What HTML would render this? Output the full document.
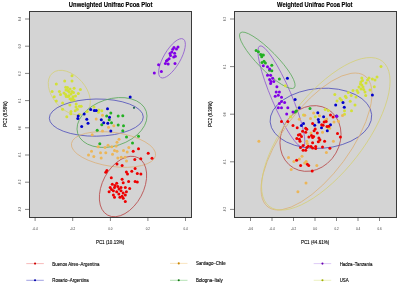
<!DOCTYPE html>
<html><head><meta charset="utf-8"><style>
html,body{margin:0;padding:0;background:#fff;}
svg{display:block;filter:blur(0.4px);}
text{font-family:"Liberation Sans",sans-serif;}
</style></head><body>
<svg width="400" height="286" viewBox="0 0 400 286">
<defs>
<clipPath id="cl"><rect x="29" y="11" width="162" height="206"/></clipPath>
<clipPath id="cr"><rect x="234" y="11" width="163" height="206"/></clipPath>
</defs>
<rect x="0" y="0" width="400" height="286" fill="#fff"/>
<rect x="29" y="11" width="162" height="206" fill="#d4d4d4"/>
<rect x="234" y="11" width="163" height="206" fill="#d4d4d4"/>
<g clip-path="url(#cl)">
<ellipse cx="172" cy="58.3" rx="22.3" ry="8.3" transform="rotate(-59.6 172 58.3)" fill="none" stroke="#9058d0" stroke-width="0.75"/>
<ellipse cx="69.3" cy="92.6" rx="25.8" ry="16.6" transform="rotate(49 69.3 92.6)" fill="none" stroke="#d4d078" stroke-width="0.75"/>
<ellipse cx="96.3" cy="117.6" rx="47.0" ry="18.6" transform="rotate(-0.8 96.3 117.6)" fill="none" stroke="#4444b8" stroke-width="0.75"/>
<ellipse cx="112" cy="122.5" rx="36" ry="23.5" transform="rotate(-18 112 122.5)" fill="none" stroke="#58a858" stroke-width="0.75"/>
<ellipse cx="113.5" cy="149.5" rx="42.5" ry="17" transform="rotate(8 113.5 149.5)" fill="none" stroke="#dcb078" stroke-width="0.75"/>
<ellipse cx="123" cy="186.5" rx="32.5" ry="20.5" transform="rotate(-62 123 186.5)" fill="none" stroke="#b84848" stroke-width="0.75"/>
<circle cx="72.0" cy="75.7" r="1.5" fill="#d2e038"/>
<circle cx="64.7" cy="81.0" r="1.5" fill="#d2e038"/>
<circle cx="72.0" cy="81.0" r="1.5" fill="#d2e038"/>
<circle cx="56.3" cy="84.1" r="1.5" fill="#d2e038"/>
<circle cx="65.7" cy="87.3" r="1.5" fill="#d2e038"/>
<circle cx="74.1" cy="88.3" r="1.5" fill="#d2e038"/>
<circle cx="80.4" cy="89.4" r="1.5" fill="#d2e038"/>
<circle cx="52.1" cy="91.5" r="1.5" fill="#d2e038"/>
<circle cx="59.4" cy="91.5" r="1.5" fill="#d2e038"/>
<circle cx="67.8" cy="90.4" r="1.5" fill="#d2e038"/>
<circle cx="72.0" cy="91.5" r="1.5" fill="#d2e038"/>
<circle cx="60.5" cy="94.6" r="1.5" fill="#d2e038"/>
<circle cx="65.7" cy="94.6" r="1.5" fill="#d2e038"/>
<circle cx="68.9" cy="95.7" r="1.5" fill="#d2e038"/>
<circle cx="73.1" cy="96.7" r="1.5" fill="#d2e038"/>
<circle cx="54.2" cy="96.7" r="1.5" fill="#d2e038"/>
<circle cx="78.3" cy="93.6" r="1.5" fill="#d2e038"/>
<circle cx="70.0" cy="98.8" r="1.5" fill="#d2e038"/>
<circle cx="74.1" cy="99.9" r="1.5" fill="#d2e038"/>
<circle cx="56.3" cy="100.9" r="1.5" fill="#d2e038"/>
<circle cx="62.6" cy="103.0" r="1.5" fill="#d2e038"/>
<circle cx="76.2" cy="104.1" r="1.5" fill="#d2e038"/>
<circle cx="79.4" cy="106.2" r="1.5" fill="#d2e038"/>
<circle cx="69.9" cy="105.1" r="1.5" fill="#d2e038"/>
<circle cx="62.6" cy="109.3" r="1.5" fill="#d2e038"/>
<circle cx="77.3" cy="109.3" r="1.5" fill="#d2e038"/>
<circle cx="71.0" cy="111.4" r="1.5" fill="#d2e038"/>
<circle cx="66.8" cy="116.7" r="1.5" fill="#d2e038"/>
<circle cx="79.4" cy="114.6" r="1.5" fill="#d2e038"/>
<circle cx="66.2" cy="96.5" r="1.5" fill="#d2e038"/>
<circle cx="71.5" cy="100.2" r="1.5" fill="#d2e038"/>
<circle cx="81.2" cy="106.2" r="1.5" fill="#d2e038"/>
<circle cx="76.0" cy="107.0" r="1.5" fill="#d2e038"/>
<circle cx="75.2" cy="110.8" r="1.5" fill="#d2e038"/>
<circle cx="70.8" cy="113.8" r="1.5" fill="#d2e038"/>
<circle cx="87.2" cy="111.5" r="1.5" fill="#d2e038"/>
<circle cx="94.0" cy="107.0" r="1.5" fill="#d2e038"/>
<circle cx="98.5" cy="112.2" r="1.5" fill="#d2e038"/>
<circle cx="98.8" cy="110.0" r="1.5" fill="#d2e038"/>
<circle cx="101.8" cy="110.8" r="1.5" fill="#d2e038"/>
<circle cx="66.0" cy="90.0" r="1.5" fill="#d2e038"/>
<circle cx="69.0" cy="92.0" r="1.5" fill="#d2e038"/>
<circle cx="71.0" cy="94.0" r="1.5" fill="#d2e038"/>
<circle cx="68.0" cy="96.5" r="1.5" fill="#d2e038"/>
<circle cx="73.5" cy="92.5" r="1.5" fill="#d2e038"/>
<circle cx="64.0" cy="93.0" r="1.5" fill="#d2e038"/>
<circle cx="70.0" cy="89.0" r="1.5" fill="#d2e038"/>
<circle cx="75.5" cy="96.0" r="1.5" fill="#d2e038"/>
<circle cx="67.5" cy="87.5" r="1.5" fill="#d2e038"/>
<circle cx="72.5" cy="98.5" r="1.5" fill="#d2e038"/>
<circle cx="96.2" cy="119.0" r="1.5" fill="#ecb658"/>
<circle cx="102.5" cy="115.2" r="1.5" fill="#ecb658"/>
<circle cx="108.5" cy="127.2" r="1.5" fill="#ecb658"/>
<circle cx="113.8" cy="125.8" r="1.5" fill="#ecb658"/>
<circle cx="102.5" cy="131.0" r="1.5" fill="#ecb658"/>
<circle cx="92.2" cy="134.8" r="1.5" fill="#ecb658"/>
<circle cx="98.2" cy="146.8" r="1.5" fill="#ecb658"/>
<circle cx="105.0" cy="147.5" r="1.5" fill="#ecb658"/>
<circle cx="108.0" cy="145.2" r="1.5" fill="#ecb658"/>
<circle cx="111.8" cy="146.8" r="1.5" fill="#ecb658"/>
<circle cx="116.2" cy="146.0" r="1.5" fill="#ecb658"/>
<circle cx="117.0" cy="142.2" r="1.5" fill="#ecb658"/>
<circle cx="91.5" cy="151.2" r="1.5" fill="#ecb658"/>
<circle cx="100.5" cy="152.8" r="1.5" fill="#ecb658"/>
<circle cx="105.8" cy="152.8" r="1.5" fill="#ecb658"/>
<circle cx="112.5" cy="154.2" r="1.5" fill="#ecb658"/>
<circle cx="117.0" cy="151.2" r="1.5" fill="#ecb658"/>
<circle cx="88.5" cy="155.0" r="1.5" fill="#ecb658"/>
<circle cx="93.8" cy="156.5" r="1.5" fill="#ecb658"/>
<circle cx="101.2" cy="158.0" r="1.5" fill="#ecb658"/>
<circle cx="117.8" cy="158.0" r="1.5" fill="#ecb658"/>
<circle cx="119.0" cy="139.2" r="1.5" fill="#ecb658"/>
<circle cx="114.5" cy="150.5" r="1.5" fill="#ecb658"/>
<circle cx="123.5" cy="150.5" r="1.5" fill="#ecb658"/>
<circle cx="128.8" cy="147.5" r="1.5" fill="#ecb658"/>
<circle cx="127.2" cy="152.0" r="1.5" fill="#ecb658"/>
<circle cx="121.2" cy="157.2" r="1.5" fill="#ecb658"/>
<circle cx="125.0" cy="157.2" r="1.5" fill="#ecb658"/>
<circle cx="126.5" cy="161.0" r="1.5" fill="#ecb658"/>
<circle cx="110.8" cy="113.0" r="1.5" fill="#22b022"/>
<circle cx="118.2" cy="116.0" r="1.5" fill="#22b022"/>
<circle cx="122.8" cy="115.7" r="1.5" fill="#22b022"/>
<circle cx="106.7" cy="116.0" r="1.5" fill="#22b022"/>
<circle cx="109.2" cy="119.8" r="1.5" fill="#22b022"/>
<circle cx="111.5" cy="122.8" r="1.5" fill="#22b022"/>
<circle cx="118.2" cy="125.0" r="1.5" fill="#22b022"/>
<circle cx="123.5" cy="125.8" r="1.5" fill="#22b022"/>
<circle cx="101.8" cy="124.7" r="1.5" fill="#22b022"/>
<circle cx="97.2" cy="130.2" r="1.5" fill="#22b022"/>
<circle cx="122.8" cy="130.7" r="1.5" fill="#22b022"/>
<circle cx="99.8" cy="143.8" r="1.5" fill="#22b022"/>
<circle cx="126.5" cy="137.0" r="1.5" fill="#22b022"/>
<circle cx="138.5" cy="136.2" r="1.5" fill="#22b022"/>
<circle cx="132.5" cy="143.0" r="1.5" fill="#22b022"/>
<circle cx="90.7" cy="109.5" r="1.5" fill="#0000cc"/>
<circle cx="94.3" cy="110.6" r="1.5" fill="#0000cc"/>
<circle cx="96.2" cy="110.6" r="1.5" fill="#0000cc"/>
<circle cx="84.2" cy="114.0" r="1.5" fill="#0000cc"/>
<circle cx="78.2" cy="116.0" r="1.5" fill="#0000cc"/>
<circle cx="77.8" cy="118.5" r="1.5" fill="#0000cc"/>
<circle cx="86.8" cy="119.3" r="1.5" fill="#0000cc"/>
<circle cx="88.0" cy="123.2" r="1.5" fill="#0000cc"/>
<circle cx="81.7" cy="126.5" r="1.5" fill="#0000cc"/>
<circle cx="107.5" cy="108.8" r="1.5" fill="#0000cc"/>
<circle cx="109.5" cy="117.2" r="1.5" fill="#0000cc"/>
<circle cx="101.3" cy="119.8" r="1.5" fill="#0000cc"/>
<circle cx="103.7" cy="122.8" r="1.5" fill="#0000cc"/>
<circle cx="107.8" cy="123.2" r="1.5" fill="#0000cc"/>
<circle cx="110.8" cy="131.0" r="1.5" fill="#0000cc"/>
<circle cx="130.2" cy="97.1" r="1.5" fill="#0000cc"/>
<circle cx="172.8" cy="49.2" r="1.5" fill="#8000e6"/>
<circle cx="176.5" cy="49.0" r="1.5" fill="#8000e6"/>
<circle cx="171.8" cy="52.0" r="1.5" fill="#8000e6"/>
<circle cx="174.6" cy="53.3" r="1.5" fill="#8000e6"/>
<circle cx="170.5" cy="55.5" r="1.5" fill="#8000e6"/>
<circle cx="173.7" cy="57.0" r="1.5" fill="#8000e6"/>
<circle cx="175.3" cy="56.2" r="1.5" fill="#8000e6"/>
<circle cx="169.1" cy="58.8" r="1.5" fill="#8000e6"/>
<circle cx="166.4" cy="61.1" r="1.5" fill="#8000e6"/>
<circle cx="165.4" cy="63.5" r="1.5" fill="#8000e6"/>
<circle cx="168.2" cy="63.9" r="1.5" fill="#8000e6"/>
<circle cx="175.0" cy="63.5" r="1.5" fill="#8000e6"/>
<circle cx="158.6" cy="64.8" r="1.5" fill="#8000e6"/>
<circle cx="161.4" cy="71.6" r="1.5" fill="#8000e6"/>
<circle cx="154.3" cy="73.0" r="1.5" fill="#8000e6"/>
<circle cx="178.0" cy="47.0" r="1.5" fill="#8000e6"/>
<circle cx="174.0" cy="47.5" r="1.5" fill="#8000e6"/>
<circle cx="170.0" cy="53.5" r="1.5" fill="#8000e6"/>
<circle cx="167.5" cy="60.0" r="1.5" fill="#8000e6"/>
<circle cx="117.0" cy="164.0" r="1.5" fill="#ee0000"/>
<circle cx="138.5" cy="148.7" r="1.5" fill="#ee0000"/>
<circle cx="133.2" cy="151.2" r="1.5" fill="#ee0000"/>
<circle cx="148.2" cy="153.2" r="1.5" fill="#ee0000"/>
<circle cx="152.0" cy="158.3" r="1.5" fill="#ee0000"/>
<circle cx="140.8" cy="158.8" r="1.5" fill="#ee0000"/>
<circle cx="134.8" cy="159.5" r="1.5" fill="#ee0000"/>
<circle cx="122.1" cy="165.4" r="1.5" fill="#ee0000"/>
<circle cx="135.1" cy="168.4" r="1.5" fill="#ee0000"/>
<circle cx="106.9" cy="170.6" r="1.5" fill="#ee0000"/>
<circle cx="105.8" cy="172.3" r="1.5" fill="#ee0000"/>
<circle cx="126.4" cy="171.9" r="1.5" fill="#ee0000"/>
<circle cx="127.5" cy="174.1" r="1.5" fill="#ee0000"/>
<circle cx="131.8" cy="171.3" r="1.5" fill="#ee0000"/>
<circle cx="137.3" cy="173.4" r="1.5" fill="#ee0000"/>
<circle cx="140.9" cy="173.9" r="1.5" fill="#ee0000"/>
<circle cx="111.3" cy="177.8" r="1.5" fill="#ee0000"/>
<circle cx="122.1" cy="179.3" r="1.5" fill="#ee0000"/>
<circle cx="128.6" cy="181.4" r="1.5" fill="#ee0000"/>
<circle cx="135.1" cy="181.4" r="1.5" fill="#ee0000"/>
<circle cx="137.3" cy="182.1" r="1.5" fill="#ee0000"/>
<circle cx="112.3" cy="184.3" r="1.5" fill="#ee0000"/>
<circle cx="116.7" cy="183.2" r="1.5" fill="#ee0000"/>
<circle cx="123.2" cy="182.7" r="1.5" fill="#ee0000"/>
<circle cx="110.2" cy="187.5" r="1.5" fill="#ee0000"/>
<circle cx="114.5" cy="187.5" r="1.5" fill="#ee0000"/>
<circle cx="117.8" cy="186.4" r="1.5" fill="#ee0000"/>
<circle cx="121.0" cy="187.5" r="1.5" fill="#ee0000"/>
<circle cx="125.3" cy="187.5" r="1.5" fill="#ee0000"/>
<circle cx="129.7" cy="188.6" r="1.5" fill="#ee0000"/>
<circle cx="109.1" cy="191.8" r="1.5" fill="#ee0000"/>
<circle cx="113.4" cy="190.8" r="1.5" fill="#ee0000"/>
<circle cx="116.7" cy="191.8" r="1.5" fill="#ee0000"/>
<circle cx="121.0" cy="190.8" r="1.5" fill="#ee0000"/>
<circle cx="123.2" cy="192.9" r="1.5" fill="#ee0000"/>
<circle cx="126.4" cy="191.8" r="1.5" fill="#ee0000"/>
<circle cx="113.4" cy="195.1" r="1.5" fill="#ee0000"/>
<circle cx="118.8" cy="194.0" r="1.5" fill="#ee0000"/>
<circle cx="122.1" cy="196.2" r="1.5" fill="#ee0000"/>
<circle cx="125.3" cy="195.1" r="1.5" fill="#ee0000"/>
<circle cx="114.5" cy="197.3" r="1.5" fill="#ee0000"/>
<circle cx="119.9" cy="197.3" r="1.5" fill="#ee0000"/>
<circle cx="123.2" cy="198.3" r="1.5" fill="#ee0000"/>
<circle cx="125.3" cy="201.6" r="1.5" fill="#ee0000"/>
<circle cx="119.0" cy="189.0" r="1.5" fill="#ee0000"/>
<circle cx="115.0" cy="185.5" r="1.5" fill="#ee0000"/>
<circle cx="111.5" cy="189.5" r="1.5" fill="#ee0000"/>
<circle cx="134" cy="107.8" r="1.1" fill="#226655"/>
</g>
<g clip-path="url(#cr)">
<ellipse cx="281.4" cy="96.5" rx="55.0" ry="9.9" transform="rotate(66.8 281.4 96.5)" fill="none" stroke="#9058d0" stroke-width="0.75"/>
<ellipse cx="267.3" cy="60.3" rx="38.5" ry="9.5" transform="rotate(45.5 267.3 60.3)" fill="none" stroke="#58a858" stroke-width="0.75"/>
<ellipse cx="320.9" cy="118.3" rx="50.9" ry="30.0" transform="rotate(-4.1 320.9 118.3)" fill="none" stroke="#4444b8" stroke-width="0.75"/>
<ellipse cx="310.5" cy="138.5" rx="34" ry="29.3" transform="rotate(-60 310.5 138.5)" fill="none" stroke="#b84848" stroke-width="0.75"/>
<ellipse cx="316.5" cy="141.5" rx="81.5" ry="33.5" transform="rotate(-53.5 316.5 141.5)" fill="none" stroke="#dcb078" stroke-width="0.75"/>
<ellipse cx="325.8" cy="133.8" rx="92" ry="38.5" transform="rotate(-52 325.8 133.8)" fill="none" stroke="#d4d078" stroke-width="0.75"/>
<circle cx="285.3" cy="85.7" r="1.5" fill="#d2e038"/>
<circle cx="303.5" cy="115.1" r="1.5" fill="#d2e038"/>
<circle cx="325.2" cy="109.4" r="1.5" fill="#d2e038"/>
<circle cx="328.3" cy="110.5" r="1.5" fill="#d2e038"/>
<circle cx="315.2" cy="116.8" r="1.5" fill="#d2e038"/>
<circle cx="290.5" cy="116.8" r="1.5" fill="#d2e038"/>
<circle cx="328.3" cy="128.1" r="1.5" fill="#d2e038"/>
<circle cx="344.5" cy="110.7" r="1.5" fill="#d2e038"/>
<circle cx="351.5" cy="110.7" r="1.5" fill="#d2e038"/>
<circle cx="344.5" cy="114.2" r="1.5" fill="#d2e038"/>
<circle cx="381.0" cy="66.5" r="1.5" fill="#d2e038"/>
<circle cx="377.0" cy="77.0" r="1.5" fill="#d2e038"/>
<circle cx="372.4" cy="79.0" r="1.5" fill="#d2e038"/>
<circle cx="367.5" cy="80.0" r="1.5" fill="#d2e038"/>
<circle cx="361.8" cy="78.0" r="1.5" fill="#d2e038"/>
<circle cx="360.8" cy="82.0" r="1.5" fill="#d2e038"/>
<circle cx="361.8" cy="85.0" r="1.5" fill="#d2e038"/>
<circle cx="359.0" cy="87.0" r="1.5" fill="#d2e038"/>
<circle cx="363.7" cy="89.6" r="1.5" fill="#d2e038"/>
<circle cx="374.3" cy="86.7" r="1.5" fill="#d2e038"/>
<circle cx="365.7" cy="95.4" r="1.5" fill="#d2e038"/>
<circle cx="357.0" cy="90.6" r="1.5" fill="#d2e038"/>
<circle cx="353.0" cy="90.6" r="1.5" fill="#d2e038"/>
<circle cx="348.3" cy="92.5" r="1.5" fill="#d2e038"/>
<circle cx="345.4" cy="96.3" r="1.5" fill="#d2e038"/>
<circle cx="351.2" cy="95.4" r="1.5" fill="#d2e038"/>
<circle cx="334.8" cy="94.4" r="1.5" fill="#d2e038"/>
<circle cx="341.5" cy="100.2" r="1.5" fill="#d2e038"/>
<circle cx="350.2" cy="101.2" r="1.5" fill="#d2e038"/>
<circle cx="355.0" cy="105.0" r="1.5" fill="#d2e038"/>
<circle cx="362.5" cy="80.5" r="1.5" fill="#d2e038"/>
<circle cx="360.5" cy="84.0" r="1.5" fill="#d2e038"/>
<circle cx="363.0" cy="87.0" r="1.5" fill="#d2e038"/>
<circle cx="361.0" cy="89.0" r="1.5" fill="#d2e038"/>
<circle cx="366.0" cy="83.0" r="1.5" fill="#d2e038"/>
<circle cx="369.0" cy="78.0" r="1.5" fill="#d2e038"/>
<circle cx="375.0" cy="80.0" r="1.5" fill="#d2e038"/>
<circle cx="358.0" cy="92.5" r="1.5" fill="#d2e038"/>
<circle cx="340.0" cy="98.5" r="1.5" fill="#d2e038"/>
<circle cx="346.2" cy="97.6" r="1.5" fill="#d2e038"/>
<circle cx="370.0" cy="90.0" r="1.5" fill="#d2e038"/>
<circle cx="356.0" cy="97.0" r="1.5" fill="#d2e038"/>
<circle cx="337.0" cy="101.0" r="1.5" fill="#d2e038"/>
<circle cx="365.0" cy="92.0" r="1.5" fill="#d2e038"/>
<circle cx="299.3" cy="119.3" r="1.5" fill="#ecb658"/>
<circle cx="304.7" cy="115.2" r="1.5" fill="#ecb658"/>
<circle cx="313.6" cy="113.1" r="1.5" fill="#ecb658"/>
<circle cx="310.5" cy="118.4" r="1.5" fill="#ecb658"/>
<circle cx="319.4" cy="115.7" r="1.5" fill="#ecb658"/>
<circle cx="326.7" cy="118.9" r="1.5" fill="#ecb658"/>
<circle cx="306.8" cy="141.3" r="1.5" fill="#ecb658"/>
<circle cx="307.3" cy="143.4" r="1.5" fill="#ecb658"/>
<circle cx="311.0" cy="132.9" r="1.5" fill="#ecb658"/>
<circle cx="322.5" cy="132.3" r="1.5" fill="#ecb658"/>
<circle cx="319.4" cy="141.3" r="1.5" fill="#ecb658"/>
<circle cx="258.9" cy="141.3" r="1.5" fill="#ecb658"/>
<circle cx="288.5" cy="157.5" r="1.5" fill="#ecb658"/>
<circle cx="293.9" cy="161.6" r="1.5" fill="#ecb658"/>
<circle cx="302.0" cy="156.2" r="1.5" fill="#ecb658"/>
<circle cx="299.3" cy="158.9" r="1.5" fill="#ecb658"/>
<circle cx="304.7" cy="162.9" r="1.5" fill="#ecb658"/>
<circle cx="291.2" cy="169.6" r="1.5" fill="#ecb658"/>
<circle cx="316.8" cy="165.6" r="1.5" fill="#ecb658"/>
<circle cx="306.0" cy="183.1" r="1.5" fill="#ecb658"/>
<circle cx="297.9" cy="191.7" r="1.5" fill="#ecb658"/>
<circle cx="333.4" cy="141.3" r="1.5" fill="#ecb658"/>
<circle cx="326.4" cy="152.5" r="1.5" fill="#ecb658"/>
<circle cx="306.2" cy="161.5" r="1.5" fill="#ecb658"/>
<circle cx="325.2" cy="120.4" r="1.5" fill="#ecb658"/>
<circle cx="334.0" cy="122.1" r="1.5" fill="#ecb658"/>
<circle cx="329.6" cy="128.2" r="1.5" fill="#ecb658"/>
<circle cx="338.4" cy="121.2" r="1.5" fill="#ecb658"/>
<circle cx="342.5" cy="115.6" r="1.5" fill="#ecb658"/>
<circle cx="256.1" cy="50.6" r="1.5" fill="#22b022"/>
<circle cx="258.4" cy="51.7" r="1.5" fill="#22b022"/>
<circle cx="260.6" cy="54.5" r="1.5" fill="#22b022"/>
<circle cx="263.4" cy="55.1" r="1.5" fill="#22b022"/>
<circle cx="261.7" cy="56.8" r="1.5" fill="#22b022"/>
<circle cx="264.0" cy="61.2" r="1.5" fill="#22b022"/>
<circle cx="262.0" cy="62.4" r="1.5" fill="#22b022"/>
<circle cx="265.4" cy="63.0" r="1.5" fill="#22b022"/>
<circle cx="271.8" cy="65.2" r="1.5" fill="#22b022"/>
<circle cx="269.6" cy="70.2" r="1.5" fill="#22b022"/>
<circle cx="271.8" cy="70.8" r="1.5" fill="#22b022"/>
<circle cx="279.4" cy="79.1" r="1.5" fill="#22b022"/>
<circle cx="262.0" cy="55.0" r="1.5" fill="#22b022"/>
<circle cx="295.1" cy="112.0" r="1.5" fill="#22b022"/>
<circle cx="296.3" cy="111.0" r="1.5" fill="#22b022"/>
<circle cx="310.0" cy="108.4" r="1.5" fill="#22b022"/>
<circle cx="287.4" cy="78.3" r="1.5" fill="#0000cc"/>
<circle cx="295.1" cy="99.4" r="1.5" fill="#0000cc"/>
<circle cx="299.3" cy="107.8" r="1.5" fill="#0000cc"/>
<circle cx="303.5" cy="123.5" r="1.5" fill="#0000cc"/>
<circle cx="301.4" cy="125.6" r="1.5" fill="#0000cc"/>
<circle cx="372.4" cy="95.0" r="1.5" fill="#0000cc"/>
<circle cx="335.7" cy="104.9" r="1.5" fill="#0000cc"/>
<circle cx="343.0" cy="102.4" r="1.5" fill="#0000cc"/>
<circle cx="344.3" cy="107.3" r="1.5" fill="#0000cc"/>
<circle cx="317.8" cy="112.8" r="1.5" fill="#0000cc"/>
<circle cx="323.6" cy="116.8" r="1.5" fill="#0000cc"/>
<circle cx="318.3" cy="119.4" r="1.5" fill="#0000cc"/>
<circle cx="318.9" cy="122.0" r="1.5" fill="#0000cc"/>
<circle cx="314.7" cy="125.2" r="1.5" fill="#0000cc"/>
<circle cx="321.5" cy="127.8" r="1.5" fill="#0000cc"/>
<circle cx="327.3" cy="130.8" r="1.5" fill="#0000cc"/>
<circle cx="336.6" cy="116.0" r="1.5" fill="#0000cc"/>
<circle cx="330.5" cy="124.7" r="1.5" fill="#0000cc"/>
<circle cx="263.3" cy="65.8" r="1.5" fill="#8000e6"/>
<circle cx="267.5" cy="66.8" r="1.5" fill="#8000e6"/>
<circle cx="269.6" cy="68.9" r="1.5" fill="#8000e6"/>
<circle cx="267.5" cy="75.2" r="1.5" fill="#8000e6"/>
<circle cx="270.6" cy="75.2" r="1.5" fill="#8000e6"/>
<circle cx="272.7" cy="78.3" r="1.5" fill="#8000e6"/>
<circle cx="269.6" cy="79.4" r="1.5" fill="#8000e6"/>
<circle cx="273.8" cy="81.5" r="1.5" fill="#8000e6"/>
<circle cx="270.6" cy="83.6" r="1.5" fill="#8000e6"/>
<circle cx="276.9" cy="86.7" r="1.5" fill="#8000e6"/>
<circle cx="271.0" cy="81.5" r="1.5" fill="#8000e6"/>
<circle cx="276.2" cy="92.0" r="1.5" fill="#8000e6"/>
<circle cx="279.4" cy="92.0" r="1.5" fill="#8000e6"/>
<circle cx="275.2" cy="96.2" r="1.5" fill="#8000e6"/>
<circle cx="278.3" cy="95.2" r="1.5" fill="#8000e6"/>
<circle cx="281.5" cy="97.3" r="1.5" fill="#8000e6"/>
<circle cx="281.5" cy="101.5" r="1.5" fill="#8000e6"/>
<circle cx="279.4" cy="103.6" r="1.5" fill="#8000e6"/>
<circle cx="284.6" cy="102.5" r="1.5" fill="#8000e6"/>
<circle cx="278.3" cy="107.8" r="1.5" fill="#8000e6"/>
<circle cx="281.5" cy="107.8" r="1.5" fill="#8000e6"/>
<circle cx="287.8" cy="107.8" r="1.5" fill="#8000e6"/>
<circle cx="286.7" cy="114.0" r="1.5" fill="#8000e6"/>
<circle cx="293.0" cy="112.0" r="1.5" fill="#8000e6"/>
<circle cx="336.9" cy="116.2" r="1.5" fill="#8000e6"/>
<circle cx="281.5" cy="121.4" r="1.5" fill="#ee0000"/>
<circle cx="287.8" cy="121.4" r="1.5" fill="#ee0000"/>
<circle cx="293.0" cy="125.6" r="1.5" fill="#ee0000"/>
<circle cx="297.2" cy="127.7" r="1.5" fill="#ee0000"/>
<circle cx="305.7" cy="128.3" r="1.5" fill="#ee0000"/>
<circle cx="312.6" cy="123.6" r="1.5" fill="#ee0000"/>
<circle cx="315.2" cy="128.9" r="1.5" fill="#ee0000"/>
<circle cx="324.1" cy="122.0" r="1.5" fill="#ee0000"/>
<circle cx="326.2" cy="121.5" r="1.5" fill="#ee0000"/>
<circle cx="323.1" cy="125.2" r="1.5" fill="#ee0000"/>
<circle cx="328.8" cy="126.2" r="1.5" fill="#ee0000"/>
<circle cx="306.8" cy="129.2" r="1.5" fill="#ee0000"/>
<circle cx="314.1" cy="130.8" r="1.5" fill="#ee0000"/>
<circle cx="302.6" cy="131.3" r="1.5" fill="#ee0000"/>
<circle cx="305.7" cy="132.3" r="1.5" fill="#ee0000"/>
<circle cx="317.3" cy="132.9" r="1.5" fill="#ee0000"/>
<circle cx="298.4" cy="135.0" r="1.5" fill="#ee0000"/>
<circle cx="300.0" cy="134.4" r="1.5" fill="#ee0000"/>
<circle cx="301.5" cy="136.5" r="1.5" fill="#ee0000"/>
<circle cx="308.9" cy="137.1" r="1.5" fill="#ee0000"/>
<circle cx="311.5" cy="135.5" r="1.5" fill="#ee0000"/>
<circle cx="312.6" cy="137.6" r="1.5" fill="#ee0000"/>
<circle cx="313.6" cy="136.5" r="1.5" fill="#ee0000"/>
<circle cx="318.9" cy="138.1" r="1.5" fill="#ee0000"/>
<circle cx="296.8" cy="138.6" r="1.5" fill="#ee0000"/>
<circle cx="299.4" cy="139.2" r="1.5" fill="#ee0000"/>
<circle cx="319.9" cy="139.7" r="1.5" fill="#ee0000"/>
<circle cx="300.0" cy="141.3" r="1.5" fill="#ee0000"/>
<circle cx="318.3" cy="141.8" r="1.5" fill="#ee0000"/>
<circle cx="324.6" cy="141.3" r="1.5" fill="#ee0000"/>
<circle cx="312.6" cy="142.8" r="1.5" fill="#ee0000"/>
<circle cx="303.1" cy="145.5" r="1.5" fill="#ee0000"/>
<circle cx="311.0" cy="146.5" r="1.5" fill="#ee0000"/>
<circle cx="315.7" cy="146.5" r="1.5" fill="#ee0000"/>
<circle cx="322.5" cy="147.0" r="1.5" fill="#ee0000"/>
<circle cx="300.5" cy="147.6" r="1.5" fill="#ee0000"/>
<circle cx="306.8" cy="147.6" r="1.5" fill="#ee0000"/>
<circle cx="312.6" cy="148.1" r="1.5" fill="#ee0000"/>
<circle cx="303.1" cy="150.2" r="1.5" fill="#ee0000"/>
<circle cx="305.7" cy="150.2" r="1.5" fill="#ee0000"/>
<circle cx="315.7" cy="148.6" r="1.5" fill="#ee0000"/>
<circle cx="296.6" cy="160.2" r="1.5" fill="#ee0000"/>
<circle cx="300.6" cy="165.6" r="1.5" fill="#ee0000"/>
<circle cx="308.7" cy="165.6" r="1.5" fill="#ee0000"/>
<circle cx="312.2" cy="171.0" r="1.5" fill="#ee0000"/>
<circle cx="307.4" cy="164.2" r="1.5" fill="#ee0000"/>
<circle cx="308.3" cy="146.2" r="1.5" fill="#ee0000"/>
<circle cx="329.9" cy="148.3" r="1.5" fill="#ee0000"/>
<circle cx="340.4" cy="137.1" r="1.5" fill="#ee0000"/>
<circle cx="330.5" cy="115.1" r="1.5" fill="#ee0000"/>
<circle cx="333.1" cy="116.9" r="1.5" fill="#ee0000"/>
<circle cx="321.7" cy="124.7" r="1.5" fill="#ee0000"/>
<circle cx="327.0" cy="126.5" r="1.5" fill="#ee0000"/>
<circle cx="337.5" cy="133.5" r="1.5" fill="#ee0000"/>
</g>
<rect x="29.5" y="11.5" width="162" height="206" fill="none" stroke="#3a3a3a" stroke-width="1"/>
<rect x="234.5" y="11.5" width="162" height="206" fill="none" stroke="#3a3a3a" stroke-width="1"/>
<text transform="translate(110.6 7.1) scale(0.84 1)" font-size="7" font-weight="bold" text-anchor="middle" fill="#000" stroke="#000" stroke-width="0.15">Unweighted Unifrac Pcoa Plot</text>
<text transform="translate(314.8 7.1) scale(0.84 1)" font-size="6.9" font-weight="bold" text-anchor="middle" fill="#000" stroke="#000" stroke-width="0.15">Weighted Unifrac Pcoa Plot</text>
<text transform="translate(110 244.1) scale(0.82 1)" font-size="5.5" text-anchor="middle" fill="#000" stroke="#000" stroke-width="0.12">PC1 (10.13%)</text>
<text transform="translate(315 244.1) scale(0.82 1)" font-size="5.5" text-anchor="middle" fill="#000" stroke="#000" stroke-width="0.12">PC1 (44.61%)</text>
<text transform="translate(6.6 114) rotate(-90) scale(0.82 1)" font-size="5.4" text-anchor="middle" fill="#000" stroke="#000" stroke-width="0.12">PC2 (8.58%)</text>
<text transform="translate(211.6 114) rotate(-90) scale(0.82 1)" font-size="5.4" text-anchor="middle" fill="#000" stroke="#000" stroke-width="0.12">PC2 (8.39%)</text>
<line x1="35.1" y1="217" x2="35.1" y2="221" stroke="#333" stroke-width="0.6"/>
<text x="35.1" y="230.2" font-size="3" text-anchor="middle" fill="#333">-0.4</text>
<line x1="72.7" y1="217" x2="72.7" y2="221" stroke="#333" stroke-width="0.6"/>
<text x="72.7" y="230.2" font-size="3" text-anchor="middle" fill="#333">-0.2</text>
<line x1="110.4" y1="217" x2="110.4" y2="221" stroke="#333" stroke-width="0.6"/>
<text x="110.4" y="230.2" font-size="3" text-anchor="middle" fill="#333">0.0</text>
<line x1="147.9" y1="217" x2="147.9" y2="221" stroke="#333" stroke-width="0.6"/>
<text x="147.9" y="230.2" font-size="3" text-anchor="middle" fill="#333">0.2</text>
<line x1="185.5" y1="217" x2="185.5" y2="221" stroke="#333" stroke-width="0.6"/>
<text x="185.5" y="230.2" font-size="3" text-anchor="middle" fill="#333">0.4</text>
<line x1="250.5" y1="217" x2="250.5" y2="221" stroke="#333" stroke-width="0.6"/>
<text x="250.5" y="230.2" font-size="3" text-anchor="middle" fill="#333">-0.6</text>
<line x1="272" y1="217" x2="272" y2="221" stroke="#333" stroke-width="0.6"/>
<text x="272" y="230.2" font-size="3" text-anchor="middle" fill="#333">-0.4</text>
<line x1="293.5" y1="217" x2="293.5" y2="221" stroke="#333" stroke-width="0.6"/>
<text x="293.5" y="230.2" font-size="3" text-anchor="middle" fill="#333">-0.2</text>
<line x1="315" y1="217" x2="315" y2="221" stroke="#333" stroke-width="0.6"/>
<text x="315" y="230.2" font-size="3" text-anchor="middle" fill="#333">0.0</text>
<line x1="336.5" y1="217" x2="336.5" y2="221" stroke="#333" stroke-width="0.6"/>
<text x="336.5" y="230.2" font-size="3" text-anchor="middle" fill="#333">0.2</text>
<line x1="358" y1="217" x2="358" y2="221" stroke="#333" stroke-width="0.6"/>
<text x="358" y="230.2" font-size="3" text-anchor="middle" fill="#333">0.4</text>
<line x1="379.5" y1="217" x2="379.5" y2="221" stroke="#333" stroke-width="0.6"/>
<text x="379.5" y="230.2" font-size="3" text-anchor="middle" fill="#333">0.6</text>
<line x1="25" y1="19.0" x2="29" y2="19.0" stroke="#333" stroke-width="0.6"/>
<text transform="translate(20.5 19.0) rotate(-90)" font-size="3" text-anchor="middle" fill="#333">0.4</text>
<line x1="25" y1="46.2" x2="29" y2="46.2" stroke="#333" stroke-width="0.6"/>
<text transform="translate(20.5 46.2) rotate(-90)" font-size="3" text-anchor="middle" fill="#333">0.3</text>
<line x1="25" y1="73.4" x2="29" y2="73.4" stroke="#333" stroke-width="0.6"/>
<text transform="translate(20.5 73.4) rotate(-90)" font-size="3" text-anchor="middle" fill="#333">0.2</text>
<line x1="25" y1="100.6" x2="29" y2="100.6" stroke="#333" stroke-width="0.6"/>
<text transform="translate(20.5 100.6) rotate(-90)" font-size="3" text-anchor="middle" fill="#333">0.1</text>
<line x1="25" y1="127.8" x2="29" y2="127.8" stroke="#333" stroke-width="0.6"/>
<text transform="translate(20.5 127.8) rotate(-90)" font-size="3" text-anchor="middle" fill="#333">0.0</text>
<line x1="25" y1="155.0" x2="29" y2="155.0" stroke="#333" stroke-width="0.6"/>
<text transform="translate(20.5 155.0) rotate(-90)" font-size="3" text-anchor="middle" fill="#333">-0.1</text>
<line x1="25" y1="182.2" x2="29" y2="182.2" stroke="#333" stroke-width="0.6"/>
<text transform="translate(20.5 182.2) rotate(-90)" font-size="3" text-anchor="middle" fill="#333">-0.2</text>
<line x1="25" y1="209.4" x2="29" y2="209.4" stroke="#333" stroke-width="0.6"/>
<text transform="translate(20.5 209.4) rotate(-90)" font-size="3" text-anchor="middle" fill="#333">-0.3</text>
<line x1="230" y1="19.0" x2="234" y2="19.0" stroke="#333" stroke-width="0.6"/>
<text transform="translate(225.5 19.0) rotate(-90)" font-size="3" text-anchor="middle" fill="#333">0.2</text>
<line x1="230" y1="66.6" x2="234" y2="66.6" stroke="#333" stroke-width="0.6"/>
<text transform="translate(225.5 66.6) rotate(-90)" font-size="3" text-anchor="middle" fill="#333">0.1</text>
<line x1="230" y1="114.2" x2="234" y2="114.2" stroke="#333" stroke-width="0.6"/>
<text transform="translate(225.5 114.2) rotate(-90)" font-size="3" text-anchor="middle" fill="#333">0.0</text>
<line x1="230" y1="161.8" x2="234" y2="161.8" stroke="#333" stroke-width="0.6"/>
<text transform="translate(225.5 161.8) rotate(-90)" font-size="3" text-anchor="middle" fill="#333">-0.1</text>
<line x1="230" y1="209.4" x2="234" y2="209.4" stroke="#333" stroke-width="0.6"/>
<text transform="translate(225.5 209.4) rotate(-90)" font-size="3" text-anchor="middle" fill="#333">-0.2</text>
<line x1="26.3" y1="263.6" x2="43.8" y2="263.6" stroke="#f08080" stroke-width="0.55"/>
<circle cx="35.05" cy="263.6" r="1.05" fill="#cc0000"/>
<text transform="translate(52.3 265.5) scale(0.83 1)" font-size="5.3" fill="#000" stroke="#000" stroke-width="0.12">Buenos Aires–Argentina</text>
<line x1="26.3" y1="280.3" x2="43.8" y2="280.3" stroke="#5555cc" stroke-width="0.55"/>
<circle cx="35.05" cy="280.3" r="1.05" fill="#0000aa"/>
<text transform="translate(52.3 282.2) scale(0.83 1)" font-size="5.3" fill="#000" stroke="#000" stroke-width="0.12">Rosario–Argentina</text>
<line x1="170" y1="263.4" x2="187.5" y2="263.4" stroke="#f5d090" stroke-width="0.55"/>
<circle cx="178.75" cy="263.4" r="1.05" fill="#cc8800"/>
<text transform="translate(196 265.29999999999995) scale(0.83 1)" font-size="5.3" fill="#000" stroke="#000" stroke-width="0.12">Santiago–Chile</text>
<line x1="170" y1="280.3" x2="187.5" y2="280.3" stroke="#77cc77" stroke-width="0.55"/>
<circle cx="178.75" cy="280.3" r="1.05" fill="#117711"/>
<text transform="translate(196 282.2) scale(0.83 1)" font-size="5.3" fill="#000" stroke="#000" stroke-width="0.12">Bologna–Italy</text>
<line x1="313.7" y1="263.6" x2="331.2" y2="263.6" stroke="#c0a0ee" stroke-width="0.55"/>
<circle cx="322.45" cy="263.6" r="1.05" fill="#6a00b0"/>
<text transform="translate(339.7 265.5) scale(0.83 1)" font-size="5.3" fill="#000" stroke="#000" stroke-width="0.12">Hadza–Tanzania</text>
<line x1="313.7" y1="280.3" x2="331.2" y2="280.3" stroke="#dde890" stroke-width="0.55"/>
<circle cx="322.45" cy="280.3" r="1.05" fill="#a0b000"/>
<text transform="translate(339.7 282.2) scale(0.83 1)" font-size="5.3" fill="#000" stroke="#000" stroke-width="0.12">USA</text>
</svg>
</body></html>
